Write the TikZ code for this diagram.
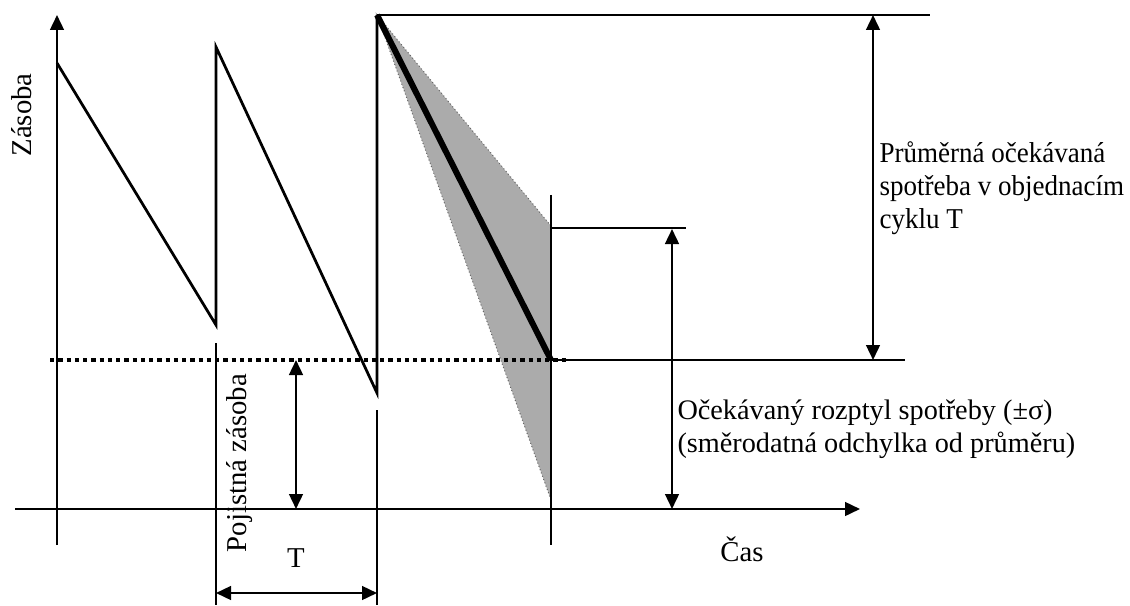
\documentclass[tikz,border=0pt]{standalone}
\usepackage{fontspec}
\setmainfont{Liberation Serif}
\newfontfamily\narrowserif[FakeStretch=0.94]{Liberation Serif}
\usetikzlibrary{arrows.meta,positioning}

\begin{document}
\begin{tikzpicture}[
    x=0.4pt, y=-0.4pt,
    line/.style={line width=0.9pt},
    arrow/.style={line width=0.9pt, -{Triangle[length=6pt, width=5.5pt]}},
    dim/.style={line width=0.9pt, {Triangle[length=6pt, width=5.5pt]}-{Triangle[length=6pt, width=5.5pt]}},
    label/.style={font=\fontsize{11.3}{13.2}\selectfont, inner sep=0pt},
    every node/.style={font=\fontsize{11.5}{13.2}\selectfont}
]
\useasboundingbox (0,0) rectangle (1130,605);

% Axes
\coordinate (o) at (57,509);
\coordinate (ytop) at (57,15);
\coordinate (ybot) at (57,545);
\coordinate (xleft) at (15,509);
\coordinate (xright) at (860,509);
\draw[arrow] (ybot) -- (ytop);
\draw[arrow] (xleft) -- (xright);

% Sawtooth
\coordinate (s1) at (57,63);
\coordinate (s2) at (216,325);
\coordinate (s3) at (216,47);
\coordinate (s4) at (377,393);
\coordinate (s5) at (377,15);
\draw[line, line width=1.1pt, line join=miter] (s1) -- (s2) -- (s3) -- (s4) -- (s5);

% Shaded spread of consumption
\coordinate (hi) at (551,226);
\coordinate (lo) at (551,500);
\coordinate (mid) at (551,360);
\fill[black!33] (s5) -- (hi) -- (lo) -- cycle;
\draw[black!60, densely dotted, line width=0.4pt] (hi) -- (s5) -- (lo);
\draw[line width=2.4pt] (s5) -- (mid);

% Cycle markers
\coordinate (c1t) at (216,343);
\coordinate (c1b) at (216,605);
\coordinate (c2t) at (377,410);
\coordinate (c2b) at (377,605);
\coordinate (c3t) at (551,195);
\coordinate (c3b) at (551,545);
\draw[line] (c1t) -- (c1b);
\draw[line] (c2t) -- (c2b);
\draw[line] (c3t) -- (c3b);

% Safety stock level
\coordinate (ssl) at (50,360);
\coordinate (ssr) at (566,360);
\draw[line width=1.7pt, dash pattern=on 1.7pt off 1.6pt] (ssl) -- (ssr);

% Reference lines
\coordinate (topr) at (930,15);
\coordinate (midr) at (905,360);
\coordinate (hir) at (686,228);
\draw[line] (s5) -- (topr);
\draw[line] (mid) -- (midr);
\draw[line] (hi) ++(0,2) coordinate (hi2) -- (hir);

% Dimension arrows
\coordinate (a1t) at (873,15);
\coordinate (a1b) at (873,360);
\draw[dim] (a1t) -- (a1b);
\coordinate (a2t) at (672,229);
\coordinate (a2b) at (672,509);
\draw[dim] (a2t) -- (a2b);
\coordinate (a3t) at (296,360);
\coordinate (a3b) at (296,509);
\draw[dim] (a3t) -- (a3b);
\coordinate (a4l) at (216,593);
\coordinate (a4r) at (377,593);
\draw[dim] (a4l) -- (a4r);

% Labels
\node[rotate=90] (zasoba) at (22,115) {Zásoba};
\node[rotate=90] (pojistna) at (240,463) {Pojistná zásoba};
\node (t) at (296,558) {T};
\node (cas) at (742,549) {Čas};
\node[label, font=\fontsize{11.5}{13.2}\narrowserif, align=left, anchor=west] (prumer) at (879,188) {Průměrná očekávaná\\spotřeba v objednacím\\cyklu T};
\node[label, align=left, anchor=west] (rozptyl) at (677,429) {Očekávaný rozptyl spotřeby (±σ)\\(směrodatná odchylka od průměru)};

\end{tikzpicture}
\end{document}
